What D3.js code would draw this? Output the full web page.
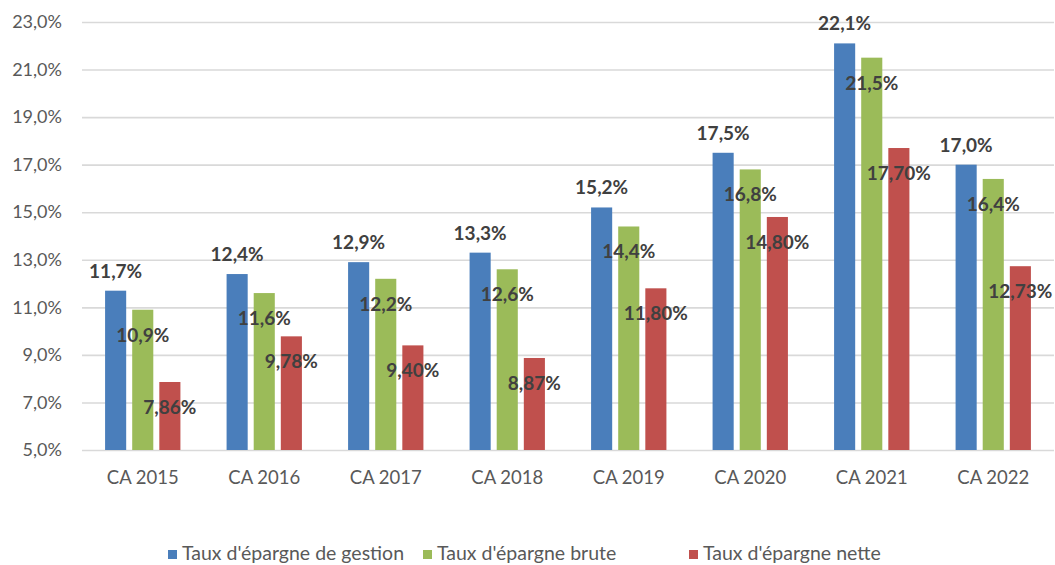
<!DOCTYPE html>
<html>
<head>
<meta charset="utf-8">
<script src="https://cdn.jsdelivr.net/npm/d3@7"></script>
<style>
  body { margin: 0; background: #fff; }
  svg { display: block; font-family: Lato, "Open Sans", sans-serif; }
</style>
</head>
<body>
<div class="chart"></div>
<script>
const categories = ['CA 2015', 'CA 2016', 'CA 2017', 'CA 2018', 'CA 2019', 'CA 2020', 'CA 2021', 'CA 2022']
const seriesNames = ["Taux d'épargne de gestion", "Taux d'épargne brute", "Taux d'épargne nette"]
const gestion = [11.7, 12.4, 12.9, 13.3, 15.2, 17.5, 22.1, 17.0]
const brute = [10.9, 11.6, 12.2, 12.6, 14.4, 16.8, 21.5, 16.4]
const nette = [7.86, 9.78, 9.40, 8.87, 11.80, 14.80, 17.70, 12.73]
const decimals = [1, 1, 2]
const yTicks = [5, 7, 9, 11, 13, 15, 17, 19, 21, 23]
const colors = ['#4a7ebb', '#9bbb59', '#c0504d']

const width = 1055
const height = 565
const margin = ({top: 22, right: 1, bottom: 115, left: 82})

const series = [gestion, brute, nette]
const data = categories.map((c, i) => ({
    cat: c,
    vals: series.map((s, k) => ({k: k, v: s[i]}))
}))

const svg = d3.select('.chart').append('svg')
    .attr('width', width)
    .attr('height', height)

// SCALES
const x0 = d3.scaleBand()
    .domain(categories)
    .range([margin.left, width - margin.right])

const x1 = d3.scaleBand()
    .domain(d3.range(series.length))
    .range([x0.bandwidth() * 0.19, x0.bandwidth() * 0.81])
    .paddingInner(0.222)

const y = d3.scaleLinear()
    .domain([5, 23])
    .range([height - margin.bottom, margin.top])

// GRID + Y AXIS
const yAxis = d3.axisLeft(y)
    .tickValues(yTicks)
    .tickSize(-(width - margin.left - margin.right))
    .tickPadding(20)
    .tickFormat(d => d3.format('.1f')(d).replace('.', ',') + '%')

svg.append('g')
    .attr('transform', `translate(${margin.left},0)`)
    .call(yAxis)
    .call(g => g.select('.domain').remove())
    .call(g => g.selectAll('line').attr('stroke', '#d9d9d9').attr('stroke-width', 1.6))
    .call(g => g.selectAll('text')
        .attr('fill', '#595959')
        .attr('font-size', 18)
        .attr('font-family', 'Lato, sans-serif'))

// X AXIS
const xAxis = d3.axisBottom(x0)
    .tickSize(0)
    .tickPadding(21)

svg.append('g')
    .attr('transform', `translate(0,${y(5)})`)
    .call(xAxis)
    .call(g => g.select('.domain').remove())
    .call(g => g.selectAll('text')
        .attr('fill', '#595959')
        .attr('font-size', 18.5)
        .attr('font-family', 'Lato, sans-serif'))

// BARS
const groups = svg.append('g')
    .selectAll('g')
    .data(data)
    .join('g')
    .attr('transform', d => `translate(${x0(d.cat)},0)`)

groups.selectAll('rect')
    .data(d => d.vals)
    .join('rect')
    .attr('x', d => x1(d.k))
    .attr('width', x1.bandwidth())
    .attr('y', d => y(d.v))
    .attr('height', d => y(5) - y(d.v))
    .attr('fill', d => colors[d.k])

// LABELS
groups.selectAll('text')
    .data(d => d.vals)
    .join('text')
    .attr('x', d => x1(d.k) + x1.bandwidth() / 2)
    .attr('y', d => d.k === 0 ? y(d.v) - 13 : y(d.v) + 32)
    .attr('text-anchor', 'middle')
    .attr('font-size', 19)
    .attr('font-weight', 'bold')
    .attr('fill', '#404040')
    .text(d => d3.format('.' + decimals[d.k] + 'f')(d.v).replace('.', ',') + '%')

// LEGEND
const legendX = [168, 423, 689]
const legend = svg.append('g')
    .selectAll('g')
    .data(seriesNames)
    .join('g')
    .attr('transform', (d, i) => `translate(${legendX[i]},560)`)

legend.append('rect')
    .attr('x', 0)
    .attr('y', -10)
    .attr('width', 9)
    .attr('height', 9)
    .attr('fill', (d, i) => colors[i])

legend.append('text')
    .attr('x', 14)
    .attr('y', 0)
    .attr('font-size', 19.5)
    .attr('fill', '#595959')
    .text(d => d)
</script>
</body>
</html>
